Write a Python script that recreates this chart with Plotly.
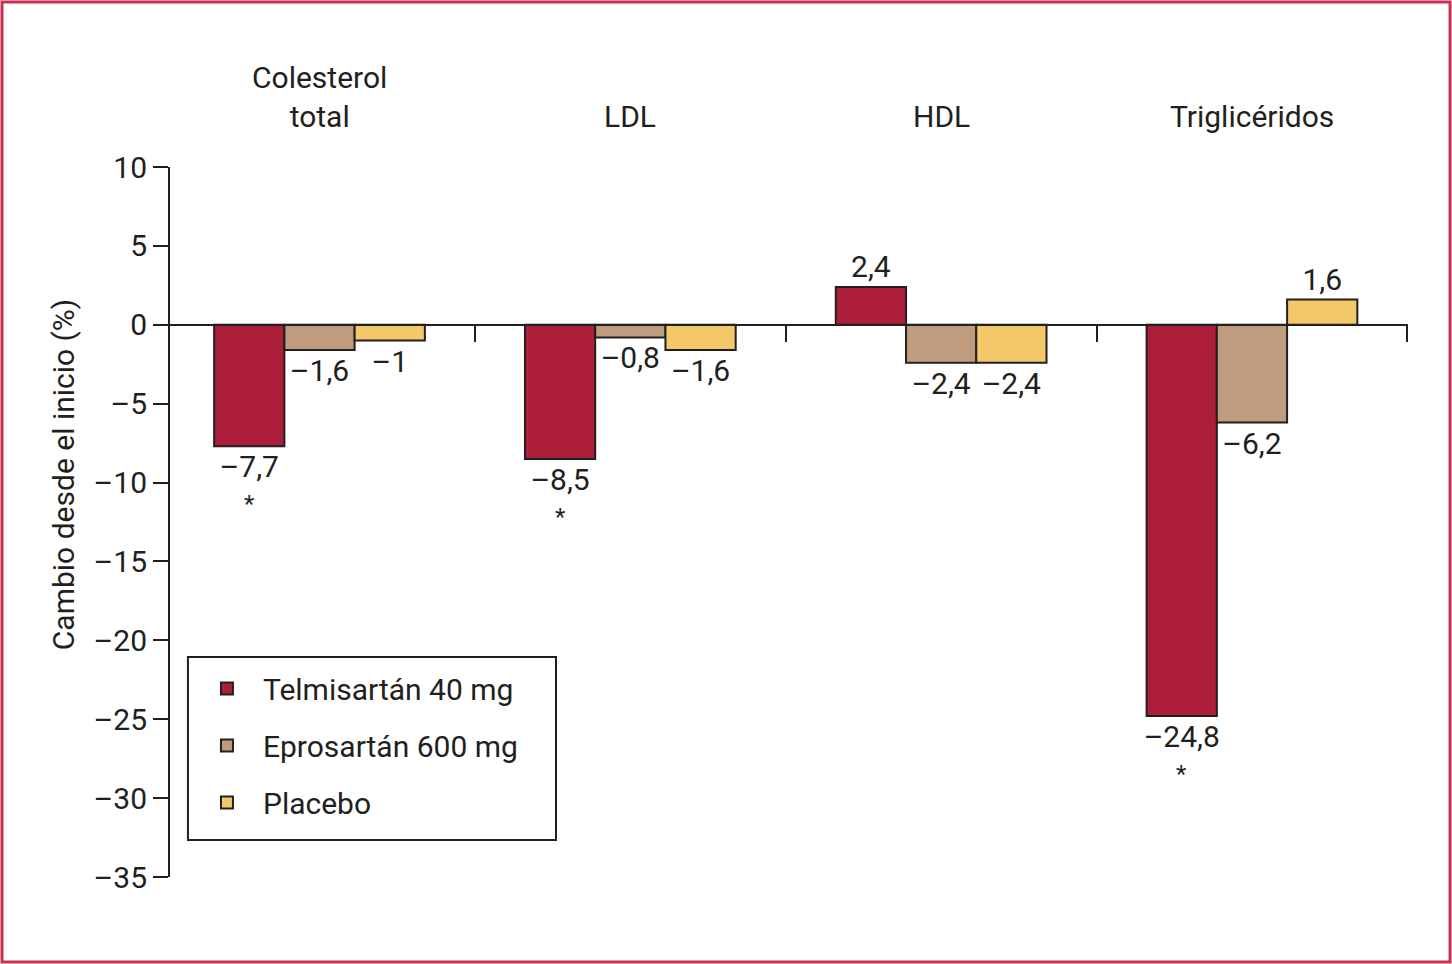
import plotly.graph_objects as go

categories = ["Colesterol<br>total", "LDL", "HDL", "Triglicéridos"]
series = ["Telmisartán 40 mg", "Eprosartán 600 mg", "Placebo"]
telmisartan = [-7.7, -8.5, 2.4, -24.8]
eprosartan = [-1.6, -0.8, -2.4, -6.2]
placebo = [-1, -1.6, -2.4, 1.6]
significant = [True, True, False, True]  # asterisk under the telmisartan value
y_ticks = [10, 5, 0, -5, -10, -15, -20, -25, -30, -35]

colors = ["#AC1E3A", "#C09C7E", "#F2C868"]
ink = "#231F20"
font = "Roboto, sans-serif"
size = 30
bargap = 0.322


def fmt(v):
    s = f"{abs(v):g}".replace(".", ",")
    return ("–" if v < 0 else "") + s


x = list(range(len(categories)))
fig = go.Figure()

for i, (name, vals) in enumerate(zip(series, [telmisartan, eprosartan, placebo])):
    fig.add_trace(go.Bar(
        name=name, x=x, y=vals, text=[fmt(v) for v in vals],
        textposition="outside", constraintext="none", cliponaxis=False,
        textfont=dict(size=size, color=ink, family=font),
        marker=dict(color=colors[i], line=dict(color=ink, width=2)),
        legendgroup=name, hoverinfo="skip",
    ))

# asterisks under the significant telmisartan bars
bar_w = (1 - bargap) / 3
for xi, v, s in zip(x, telmisartan, significant):
    if s:
        fig.add_annotation(x=xi - bar_w, y=v, xref="x", yref="y", text="*",
                           showarrow=False, yanchor="top", yshift=-42,
                           font=dict(size=24, color=ink, family=font))

for xi, cat in zip(x, categories):
    fig.add_annotation(x=xi, y=1.043, xref="x", yref="paper", text=cat,
                       showarrow=False, yanchor="bottom",
                       font=dict(size=size, color=ink, family=font))

fig.add_annotation(x=-0.0777, y=0.566, xref="paper", yref="paper",
                   xanchor="center", yanchor="middle",
                   text="Cambio desde el inicio (%)", textangle=-90,
                   showarrow=False, font=dict(size=size, color=ink, family=font))

# red frame round the whole picture
fig.add_shape(type="rect", xref="paper", yref="paper",
              x0=-0.1266, x1=1.0337, y0=-0.1197, y1=1.2324,
              line=dict(color="#C8304F", width=3))
# frame of the legend (wider than plotly's own)
fig.add_shape(type="rect", xref="paper", yref="paper",
              x0=0.0224, x1=0.3173, y0=0.0521, y1=0.3099,
              line=dict(color=ink, width=2), layer="above")

fig.update_layout(
    width=1452, height=964,
    margin=dict(l=160, r=44, t=167, b=87),
    paper_bgcolor="white", plot_bgcolor="white",
    barmode="group", bargap=bargap, bargroupgap=0,
    font=dict(family=font, size=size, color=ink),
    showlegend=True,
    legend=dict(x=0.0248, y=0.302, xanchor="left", yanchor="top",
                bgcolor="rgba(0,0,0,0)", borderwidth=0, tracegroupgap=15,
                font=dict(size=size, color=ink, family=font),
                itemwidth=62, itemsizing="constant"),
)
fig.update_xaxes(
    domain=[10 / 1248, 1], range=[-0.481, 3.502],
    anchor="free", position=35 / 45,
    showline=True, linecolor=ink, linewidth=2,
    tickvals=[0.5, 1.5, 2.5, 3.5], ticks="outside", ticklen=16,
    tickwidth=2, tickcolor=ink, showticklabels=False, showgrid=False,
    zeroline=False,
)
fig.update_yaxes(
    range=[-35, 10], tickvals=y_ticks,
    ticktext=[fmt(v) for v in y_ticks],
    showline=True, linecolor=ink, linewidth=2,
    ticks="outside", ticklen=15, tickwidth=2, tickcolor=ink,
    showgrid=False, zeroline=False,
    tickfont=dict(size=size, color=ink, family=font),
)

fig.write_html("out.html", config={"displayModeBar": False},
               post_script="document.body.style.margin = '0px';")
